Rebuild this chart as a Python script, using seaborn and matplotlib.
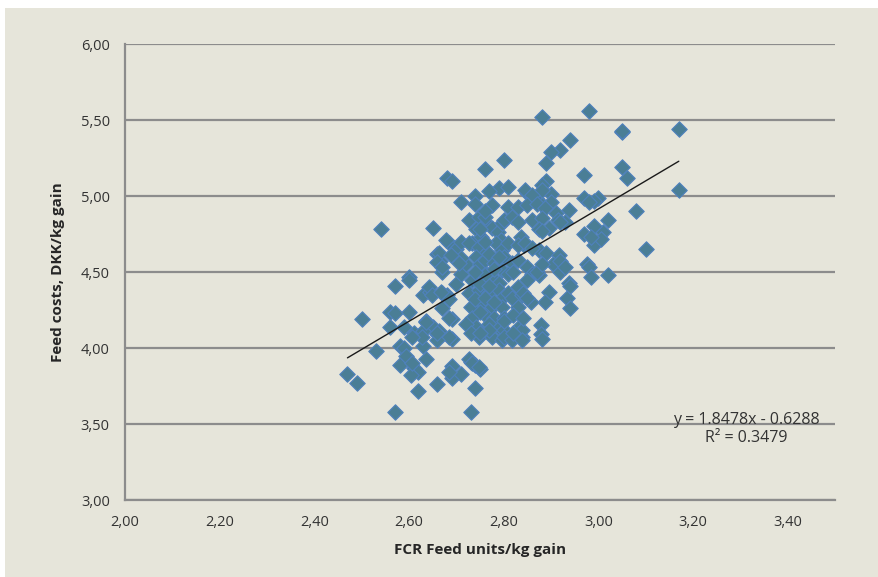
import numpy as np
import pandas as pd
import matplotlib
matplotlib.use("Agg")
import matplotlib.pyplot as plt
from matplotlib.patches import Rectangle
from matplotlib.ticker import FuncFormatter
import seaborn as sns

# FCR (feed units/kg gain) vs feed costs (DKK/kg gain)
fcr = [2.98, 2.88, 3.05, 3.05, 3.17, 2.94, 2.92, 2.90, 2.80, 2.89, 3.05, 2.76, 2.68, 2.69,
       2.97, 3.06, 2.89, 2.88, 3.17, 2.79, 2.77, 2.74, 2.71, 2.85, 2.87, 2.88, 2.90, 2.90,
       2.97, 3.00, 2.99, 2.98, 3.08, 3.02, 3.01, 2.99, 2.99, 2.97, 3.10, 2.975, 2.98, 3.02,
       2.985, 2.54, 2.65, 2.685, 2.70, 2.66, 2.665, 2.67, 2.57, 2.60, 2.60, 2.50, 2.56, 2.57,
       2.56, 2.60, 2.63, 2.645, 2.64, 2.61, 2.58, 2.59, 2.53, 2.47, 2.49, 2.58, 2.61, 2.62,
       2.605, 2.63, 2.635, 2.62, 2.57, 2.66, 2.69, 2.69, 2.71, 2.73, 2.74, 2.75, 2.74, 2.73,
       2.69, 2.66, 2.69, 2.67, 2.68, 2.70, 2.71, 2.72, 2.71, 2.71,
       2.81, 2.74, 2.775, 2.726, 2.747, 2.762, 2.741, 2.752, 2.775, 2.789, 2.796, 2.678, 2.733,
       2.88, 2.846, 2.86, 2.81, 2.83, 2.85, 2.87, 2.888, 2.80, 2.817, 2.83, 2.86, 2.88, 2.91,
       2.937, 2.93, 2.915, 2.874, 2.895, 3.006, 2.985, 2.794, 2.836, 2.842,
       2.663, 2.688, 2.659, 2.67, 2.642, 2.67, 2.636, 2.65, 2.63, 2.663, 2.684, 2.66, 2.684,
       2.684, 2.705, 2.733, 2.754, 2.775, 2.79, 2.726, 2.747, 2.762, 2.783, 2.796, 2.741,
       2.726, 2.747, 2.768, 2.79, 2.80, 2.73, 2.754, 2.775, 2.796, 2.733, 2.76, 2.78, 2.80,
       2.741, 2.768, 2.79, 2.80, 2.747, 2.775, 2.796, 2.72, 2.73,
       2.81, 2.83, 2.846, 2.874, 2.89, 2.916, 2.92, 2.905, 2.92, 2.80, 2.817, 2.83, 2.85,
       2.86, 2.874, 2.796, 2.81, 2.937, 2.933, 2.94, 2.895, 2.888, 2.857, 2.81, 2.817, 2.83,
       2.878, 2.878, 2.83, 2.838, 2.80, 2.80, 2.817, 2.838, 2.838, 2.838,
       2.594, 2.606, 2.684, 2.726, 2.733, 2.747, 2.648, 2.667, 2.659, 2.636, 2.627, 2.606,
       2.589,
       2.75, 2.76, 2.77, 2.78, 2.76, 2.78, 2.74, 2.75, 2.77, 2.79, 2.76, 2.75, 2.76, 2.76,
       2.74, 2.76, 2.78, 2.75, 2.77, 2.75, 2.88, 2.86, 2.87, 2.88, 2.85, 2.82, 2.83, 2.82,
       2.84, 2.82, 2.84, 2.88, 2.85, 2.94, 2.92, 2.92, 2.93]

cost = [5.56, 5.52, 5.42, 5.43, 5.44, 5.37, 5.30, 5.29, 5.24, 5.22, 5.19, 5.18, 5.12, 5.10,
        5.14, 5.12, 5.10, 5.07, 5.04, 5.05, 5.03, 5.00, 4.96, 5.02, 4.98, 4.94, 5.01, 4.96,
        4.99, 4.99, 4.97, 4.96, 4.90, 4.84, 4.76, 4.80, 4.68, 4.75, 4.65, 4.55, 4.53, 4.48,
        4.47, 4.78, 4.79, 4.69, 4.65, 4.62, 4.57, 4.50, 4.41, 4.47, 4.45, 4.19, 4.24, 4.23,
        4.14, 4.24, 4.35, 4.37, 4.16, 4.10, 4.01, 4.00, 3.98, 3.83, 3.77, 3.89, 3.87, 3.84,
        3.82, 4.01, 3.93, 3.72, 3.58, 3.76, 3.80, 3.88, 3.83, 3.91, 3.89, 3.86, 3.74, 3.58,
        4.06, 4.09, 4.19, 4.26, 4.35, 4.42, 4.49, 4.55, 4.59, 4.70,
        5.06, 4.95, 4.94, 4.84, 4.86, 4.82, 4.78, 4.73, 4.79, 4.76, 4.82, 4.71, 4.69,
        5.04, 5.04, 5.007, 4.93, 4.93, 4.94, 4.95, 4.92, 4.84, 4.86, 4.83, 4.84, 4.855, 4.89,
        4.91, 4.83, 4.84, 4.78, 4.79, 4.72, 4.73, 4.71, 4.73, 4.68,
        4.625, 4.61, 4.565, 4.53, 4.40, 4.36, 4.18, 4.14, 4.11, 4.11, 4.07, 4.05, 4.20,
        4.32, 4.56, 4.45, 4.51, 4.47, 4.43, 4.69, 4.665, 4.625, 4.69, 4.645, 4.60,
        4.36, 4.38, 4.36, 4.38, 4.34, 4.27, 4.30, 4.27, 4.27, 4.20, 4.22, 4.20, 4.20,
        4.14, 4.16, 4.13, 4.12, 4.07, 4.07, 4.05, 4.16, 4.10,
        4.69, 4.68, 4.69, 4.645, 4.625, 4.61, 4.56, 4.55, 4.50, 4.60, 4.56, 4.58, 4.53,
        4.49, 4.48, 4.51, 4.49, 4.43, 4.33, 4.26, 4.37, 4.30, 4.30, 4.36, 4.33, 4.27,
        4.15, 4.09, 4.13, 4.07, 4.18, 4.07, 4.05, 4.35, 4.12, 4.05,
        3.95, 3.90, 3.84, 3.93, 3.90, 3.875, 4.35, 4.37, 4.10, 4.17, 4.07, 4.07,
        4.14,
        4.55, 4.58, 4.62, 4.56, 4.48, 4.52, 4.50, 4.42, 4.41, 4.60, 4.70, 4.78, 4.86, 4.90,
        4.32, 4.33, 4.30, 4.24, 4.12, 4.10, 4.77, 4.66, 4.50, 4.55, 4.45, 4.50, 4.40, 4.22,
        4.20, 4.10, 4.36, 4.06, 4.33, 4.41, 4.83, 4.57, 4.53]

# trendline as printed on the chart
slope = 1.8478
intercept = -0.6288
r2 = 0.3479

x_ticks = [2.0, 2.2, 2.4, 2.6, 2.8, 3.0, 3.2, 3.4]
y_ticks = [3.0, 3.5, 4.0, 4.5, 5.0, 5.5, 6.0]

df = pd.DataFrame({"fcr": fcr, "cost": cost})

bg = "#E6E5DA"
grid_col = "#8C8C8C"

sns.set_style("white")
plt.rcParams["font.family"] = ["Open Sans", "DejaVu Sans"]

fig = plt.figure(figsize=(8.79, 5.77), dpi=100, facecolor="white")
# beige chart area (thin white strip at top/left like the screenshot)
fig.patches.append(Rectangle((5 / 879, 0), 1, 1 - 8 / 577, transform=fig.transFigure,
                             facecolor=bg, edgecolor="none", zorder=-1))
ax = fig.add_axes([125 / 879, 1 - 500 / 577, 710 / 879, 456 / 577])
ax.set_facecolor(bg)

sns.scatterplot(data=df, x="fcr", y="cost", marker="D", s=62, color="#4A7E96",
                edgecolor="#4F81BD", linewidth=0.8, ax=ax, zorder=3)

xs = np.array([min(fcr), max(fcr)])
ax.plot(xs, slope * xs + intercept, color="#1a1a1a", lw=1.0, zorder=4)

ax.set_xlim(2.0, 3.5)
ax.set_ylim(3.0, 6.0)
ax.set_xticks(x_ticks)
ax.set_yticks(y_ticks)
fmt = FuncFormatter(lambda v, p: f"{v:.2f}".replace(".", ","))
ax.xaxis.set_major_formatter(fmt)
ax.yaxis.set_major_formatter(fmt)

ax.yaxis.grid(True, color=grid_col, lw=1.6, zorder=0)
ax.xaxis.grid(False)
ax.set_axisbelow(True)
for side in ["top", "right"]:
    ax.spines[side].set_visible(False)
for side in ["left", "bottom"]:
    ax.spines[side].set_color(grid_col)
    ax.spines[side].set_linewidth(1.6)

ax.tick_params(axis="both", which="major", direction="out", length=6, width=1.4,
               color=grid_col, labelcolor="#333333", labelsize=10.5, pad=5)

ax.set_xlabel("FCR Feed units/kg gain", fontsize=11, fontweight="bold", labelpad=9)
ax.set_ylabel("Feed costs, DKK/kg gain", fontsize=11, fontweight="bold", labelpad=11)

ax.text(0.875, 0.155, f"y = {slope}x - {abs(intercept)}\nR² = {r2}", transform=ax.transAxes,
        ha="center", va="center", multialignment="center", fontsize=11.5, color="#333333",
        linespacing=1.15)

fig.savefig("out.png", dpi=100, facecolor=fig.get_facecolor())
